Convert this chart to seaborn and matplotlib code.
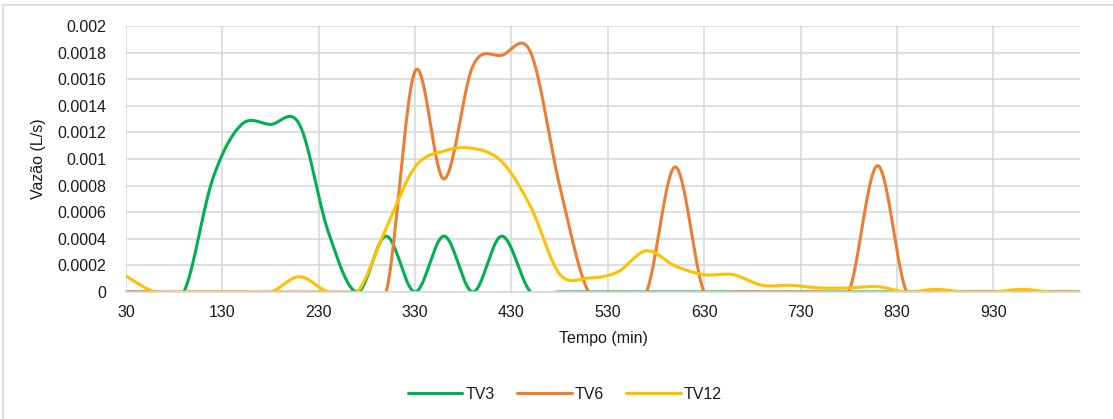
import numpy as np
import pandas as pd
import matplotlib
matplotlib.use("Agg")
import matplotlib.pyplot as plt
import seaborn as sns
from matplotlib.patches import Rectangle

# Sampling times (min)
tempo = list(range(30, 1021, 30))

# Flow rate (L/s) per test
tv3 = [0, 0, 0, 0.00085, 0.00126, 0.00126, 0.00126, 0.00045, 0, 0.00042,
       0, 0.00042, 0, 0.00042, 0, 0, 0, 0, 0, 0,
       0, 0, 0, 0, 0, 0, 0, 0, 0, 0,
       0, 0, 0, 0]
tv6 = [0, 0, 0, 0, 0, 0, 0, 0, 0, 0,
       0.00166, 0.00085, 0.00170, 0.00178, 0.00180, 0.00080, 0, 0, 0, 0.00094,
       0, 0, 0, 0, 0, 0, 0.00095, 0, 0, 0,
       0, 0, 0, 0]
tv12 = [0.00012, 0, 0, 0, 0, 0, 0.000115, 0, 0, 0.00048,
        0.00094, 0.00106, 0.00108, 0.00098, 0.00064, 0.000135, 0.000105, 0.00015, 0.00031, 0.000195,
        0.00013, 0.00013, 0.00005, 0.00005, 0.00003, 0.00003, 0.00004, 0, 0.00002, 0,
        0, 0.00002, 0, 0]

series = {"TV3": tv3, "TV6": tv6, "TV12": tv12}
colors = {"TV3": "#00B050", "TV6": "#ED7D31", "TV12": "#FFC000"}


def smooth(x, y, n=40):
    """Catmull-Rom smoothed line through the points (spreadsheet-style smoothing)."""
    x = np.asarray(x, float)
    y = np.asarray(y, float)
    xp = np.concatenate([[x[0]], x, [x[-1]]])
    yp = np.concatenate([[y[0]], y, [y[-1]]])
    xs, ys = [], []
    s = np.linspace(0, 1, n, endpoint=False)
    h00 = 2 * s**3 - 3 * s**2 + 1
    h10 = s**3 - 2 * s**2 + s
    h01 = -2 * s**3 + 3 * s**2
    h11 = s**3 - s**2
    for i in range(1, len(x)):
        for arr, out in ((xp, xs), (yp, ys)):
            p0, p1, p2, p3 = arr[i - 1], arr[i], arr[i + 1], arr[i + 2]
            m1 = (p2 - p0) / 2
            m2 = (p3 - p1) / 2
            out.extend(h00 * p1 + h10 * m1 + h01 * p2 + h11 * m2)
    xs.append(x[-1])
    ys.append(y[-1])
    return np.array(xs), np.array(ys)


frames = []
for name, vals in series.items():
    sx, sy = smooth(tempo, vals)
    frames.append(pd.DataFrame({"Tempo": sx, "Vazao": sy, "Serie": name}))
df = pd.concat(frames, ignore_index=True)

sns.set_theme(style="white")
plt.rcParams["font.family"] = ["Liberation Sans", "DejaVu Sans"]

W, H = 1113, 419
fig = plt.figure(figsize=(W / 100, H / 100), dpi=100)
ax = fig.add_axes([126 / W, 1 - 292 / H, (1080 - 126) / W, (292 - 26) / H])

sns.lineplot(data=df, x="Tempo", y="Vazao", hue="Serie", palette=colors,
             hue_order=["TV3", "TV6", "TV12"], sort=False, estimator=None,
             linewidth=2.2, ax=ax, legend=True)

ax.set_xlim(30, 1020)
ax.set_ylim(0, 0.002)
ax.set_xticks(np.arange(30, 1000, 100))
ax.set_yticks(np.arange(0, 0.00201, 0.0002))
ax.set_yticklabels(["0", "0.0002", "0.0004", "0.0006", "0.0008", "0.001",
                    "0.0012", "0.0014", "0.0016", "0.0018", "0.002"])
ax.grid(True, color="#D9D9D9", linewidth=1.2)
ax.set_axisbelow(True)
for side in ("top", "right", "left"):
    ax.spines[side].set_visible(False)
ax.spines["bottom"].set_color("#D9D9D9")
ax.spines["bottom"].set_linewidth(1.2)
ax.tick_params(axis="both", length=0, labelsize=11.5, labelcolor="#1a1a1a")
ax.tick_params(axis="x", pad=9)
ax.tick_params(axis="y", pad=14)

ax.set_xlabel("Tempo (min)", fontsize=11.5, color="#1a1a1a", labelpad=8)
ax.set_ylabel("Vazão (L/s)", fontsize=11.5, color="#1a1a1a", labelpad=8)

handles, labels = ax.get_legend_handles_labels()
ax.legend(handles, labels, loc="center", bbox_to_anchor=(565 / W, 1 - 394 / H),
          bbox_transform=fig.transFigure, ncol=3, frameon=False, fontsize=11.5,
          handlelength=3.4, handletextpad=0.2, columnspacing=1.4,
          labelcolor="#1a1a1a")

# chart frame
fig.patches.append(Rectangle((3 / W, -0.1), 1.2, 1 - 5 / H + 0.1,
                             transform=fig.transFigure, fill=False,
                             edgecolor="#D9D9D9", linewidth=1.2))

fig.savefig("out.png", dpi=100)
